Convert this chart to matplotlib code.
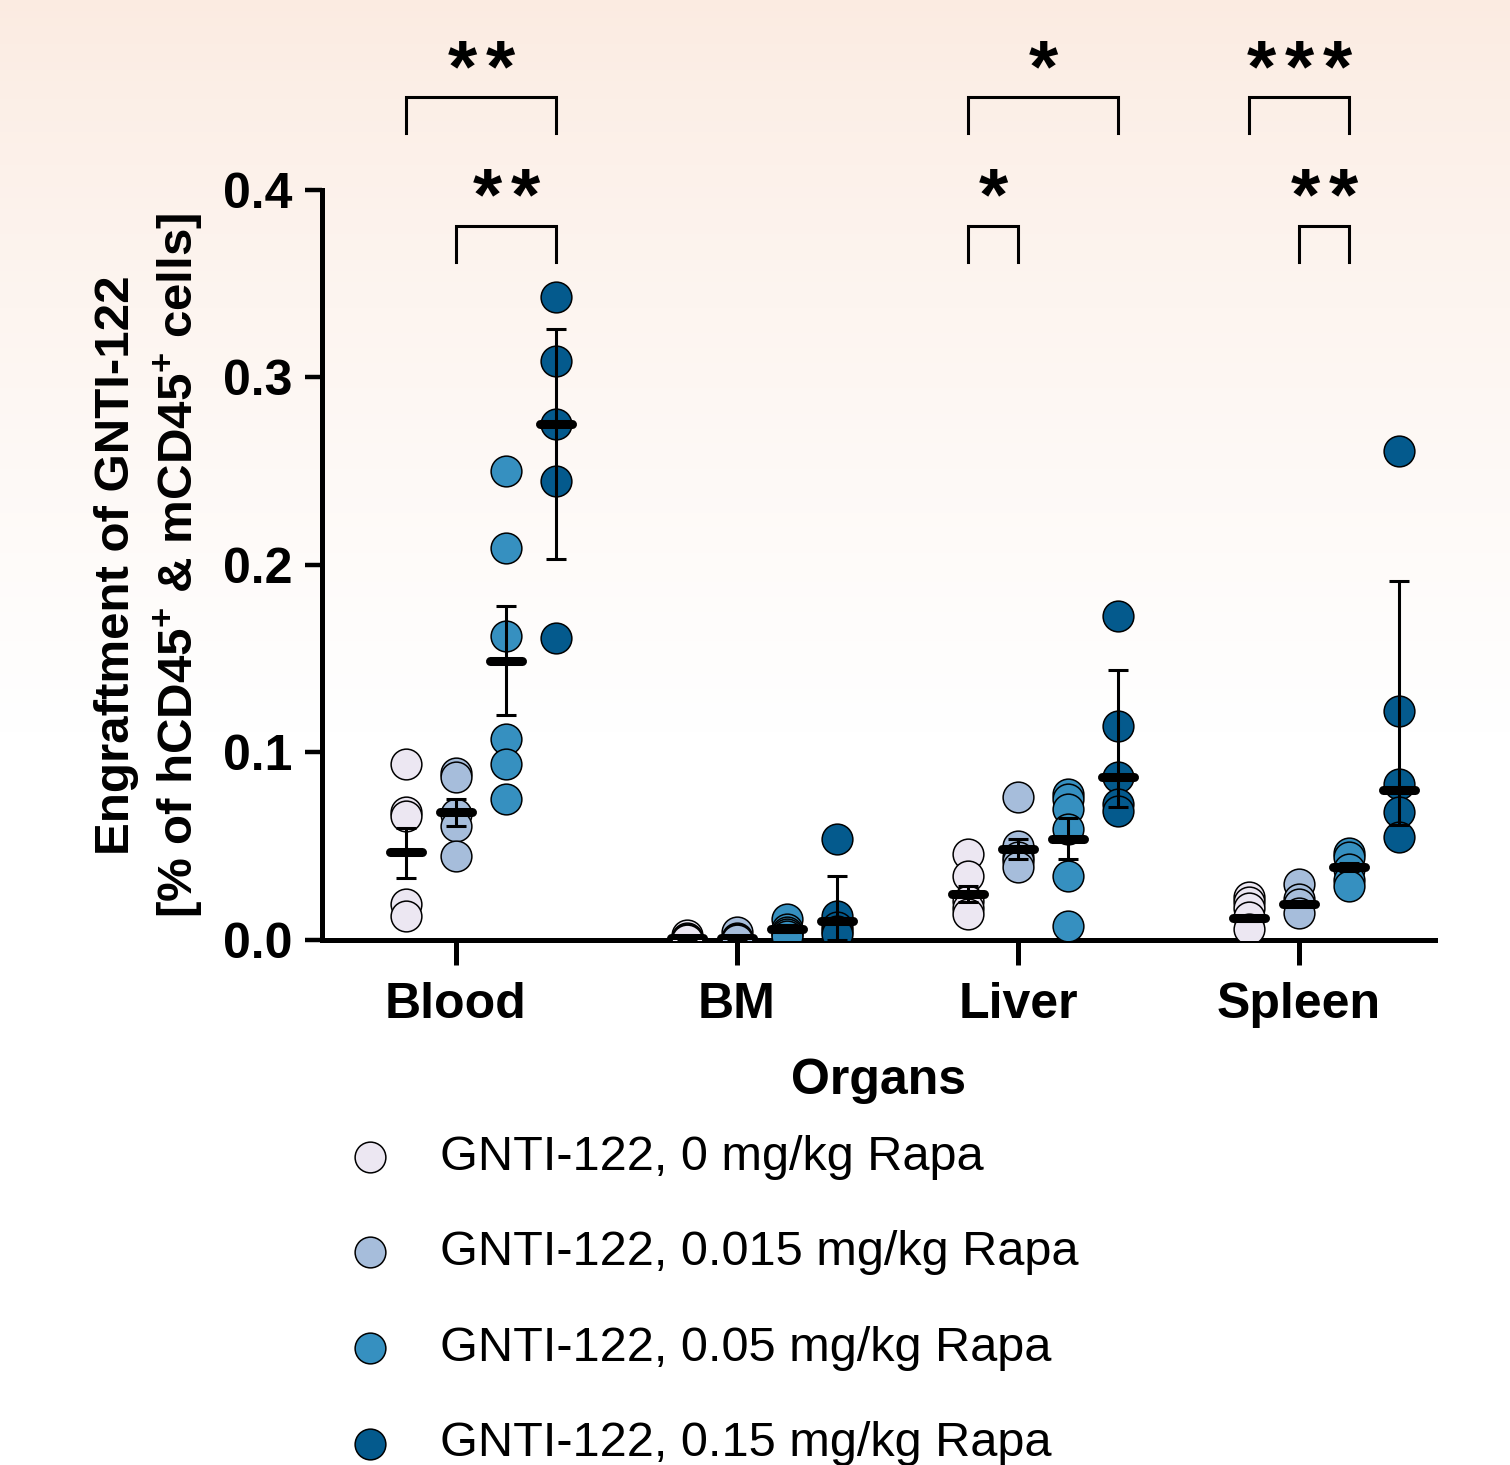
import numpy as np
import matplotlib
matplotlib.use("Agg")
import matplotlib.pyplot as plt

plt.rcParams["font.family"] = ["Liberation Sans", "DejaVu Sans"]
plt.rcParams["mathtext.fontset"] = "custom"
plt.rcParams["mathtext.rm"] = "Liberation Sans:bold"
plt.rcParams["mathtext.bf"] = "Liberation Sans:bold"
plt.rcParams["mathtext.default"] = "bf"

# Data
organs = ["Blood", "BM", "Liver", "Spleen"]
doses = ["GNTI-122, 0 mg/kg Rapa", "GNTI-122, 0.015 mg/kg Rapa",
         "GNTI-122, 0.05 mg/kg Rapa", "GNTI-122, 0.15 mg/kg Rapa"]
colors = ["#ECE7F2", "#A6BDDB", "#3690C0", "#045A8D"]

blood = [[0.094, 0.068, 0.066, 0.019, 0.013],
         [0.089, 0.087, 0.067, 0.061, 0.045],
         [0.250, 0.209, 0.162, 0.107, 0.094, 0.075],
         [0.343, 0.309, 0.275, 0.245, 0.161]]
bm = [[0.0025, 0.001, 0.0005, 0.0002, 0.0],
      [0.004, 0.001, 0.0005, 0.0002, 0.0],
      [0.011, 0.006, 0.004, 0.003, 0.002],
      [0.054, 0.013, 0.007, 0.005, 0.003]]
liver = [[0.046, 0.034, 0.021, 0.017, 0.014],
         [0.076, 0.050, 0.044, 0.042, 0.039],
         [0.078, 0.075, 0.070, 0.059, 0.034, 0.0075],
         [0.173, 0.114, 0.087, 0.0725, 0.069]]
spleen = [[0.023, 0.020, 0.017, 0.012, 0.006],
          [0.030, 0.022, 0.019, 0.0145],
          [0.0465, 0.044, 0.038, 0.032, 0.029],
          [0.261, 0.122, 0.083, 0.068, 0.055]]

# centre line and error bar ends
blood_mid = [0.047, 0.068, 0.149, 0.275]
blood_lo = [0.033, 0.061, 0.120, 0.203]
blood_hi = [0.0595, 0.075, 0.178, 0.326]
bm_mid = [0.001, 0.001, 0.006, 0.010]
bm_lo = [0.0, 0.0, 0.004, 0.0]
bm_hi = [0.002, 0.002, 0.008, 0.034]
liver_mid = [0.0245, 0.0485, 0.054, 0.087]
liver_lo = [0.020, 0.043, 0.043, 0.071]
liver_hi = [0.029, 0.054, 0.065, 0.144]
spleen_mid = [0.0116, 0.0193, 0.039, 0.080]
spleen_lo = [0.010, 0.018, 0.037, 0.0615]
spleen_hi = [0.013, 0.021, 0.041, 0.1915]

# significance: (organ index, col a, col b, row, label)
sig = [(0, 0, 3, 0, "**"), (0, 1, 3, 1, "**"),
       (2, 0, 3, 0, "*"), (2, 0, 1, 1, "*"),
       (3, 0, 2, 0, "***"), (3, 1, 2, 1, "**")]

points = [blood, bm, liver, spleen]
mids = [blood_mid, bm_mid, liver_mid, spleen_mid]
los = [blood_lo, bm_lo, liver_lo, spleen_lo]
his = [blood_hi, bm_hi, liver_hi, spleen_hi]

gstep = 5.62  # spacing between organ groups (column spacing = 1)

def xpos(g, j):
    return g * gstep + (j - 1)

fig = plt.figure(figsize=(15.1, 14.65), dpi=100)

# background gradient
bg = fig.add_axes([0, 0, 1, 1], zorder=-10)
t = np.linspace(0, 1, 400)[:, None]
top = np.array([251, 235, 225]) / 255.
w = np.clip(t / 0.5, 0, 1) ** 0.8
grad = top[None, :] * (1 - w) + np.ones(3)[None, :] * w
bg.imshow(np.repeat(grad[:, None, :], 2, axis=1), aspect="auto", extent=[0, 1, 0, 1])
bg.axis("off")

ax = fig.add_axes([0.2132, 0.3584, 0.7371, 0.5119])
ax.set_facecolor("none")

for g in range(4):
    for j in range(4):
        x = xpos(g, j)
        ys = points[g][j]
        ax.scatter([x] * len(ys), ys, s=490, color=colors[j], edgecolor="black",
                   linewidth=1.1, zorder=3)
        m = mids[g][j]
        ax.errorbar([x], [m], yerr=[[m - los[g][j]], [his[g][j] - m]], fmt="none",
                    ecolor="black", elinewidth=2.2, capsize=7.2, capthick=2.2, zorder=4)
        ax.plot([x - 0.32, x + 0.32], [m, m], color="black", lw=6.5,
                solid_capstyle="round", zorder=5)

# significance brackets
row_y = [0.4496, 0.3808]
leg_h = 0.0192
star_y = [0.4528, 0.3845]
star_gap = 0.76
for g, a, b, r, lab in sig:
    x1, x2 = xpos(g, a), xpos(g, b)
    y = row_y[r]
    ax.plot([x1, x1, x2, x2], [y - leg_h, y, y, y - leg_h], color="black", lw=2.2,
            clip_on=False, solid_joinstyle="miter")
    n = len(lab)
    for k in range(n):
        xs = (x1 + x2) / 2 + (k - (n - 1) / 2) * star_gap
        ax.text(xs, star_y[r], "*", ha="center", va="baseline",
                fontsize=54, fontweight="bold", clip_on=False)

ax.set_xlim(-2.68, 19.58)
ax.set_ylim(0, 0.4)
ax.set_yticks([0, 0.1, 0.2, 0.3, 0.4])
ax.set_yticklabels(["0.0", "0.1", "0.2", "0.3", "0.4"])
ax.set_xticks([g * gstep for g in range(4)])
ax.set_xticklabels(organs)
for s in ["top", "right"]:
    ax.spines[s].set_visible(False)
for s in ["left", "bottom"]:
    ax.spines[s].set_linewidth(3.6)
ax.tick_params(axis="y", length=12, width=3.2, pad=9, labelsize=36)
ax.tick_params(axis="x", length=18, width=3.6, pad=12, labelsize=36)
for lab in ax.get_xticklabels() + ax.get_yticklabels():
    lab.set_fontweight("bold")

ax.set_xlabel("Organs", fontsize=36, fontweight="bold")
ax.xaxis.set_label_coords(0.5, -0.158)
ax.set_ylabel("Engraftment of GNTI-122\n[% of hCD45$^{+}$ & mCD45$^{+}$ cells]",
              fontsize=35.5, fontweight="bold", linespacing=1.3)
ax.yaxis.set_label_coords(-0.105, 0.5)

handles = [ax.scatter([], [], s=490, color=c, edgecolor="black", linewidth=1.1)
           for c in colors]
ax.legend(handles, doses, loc="upper left", bbox_to_anchor=(0.229, 0.2255),
          bbox_transform=fig.transFigure, frameon=False, fontsize=35,
          handlelength=1.0, handletextpad=0.94, borderpad=0, labelspacing=1.04,
          borderaxespad=0)

fig.savefig("out.png", dpi=100)
